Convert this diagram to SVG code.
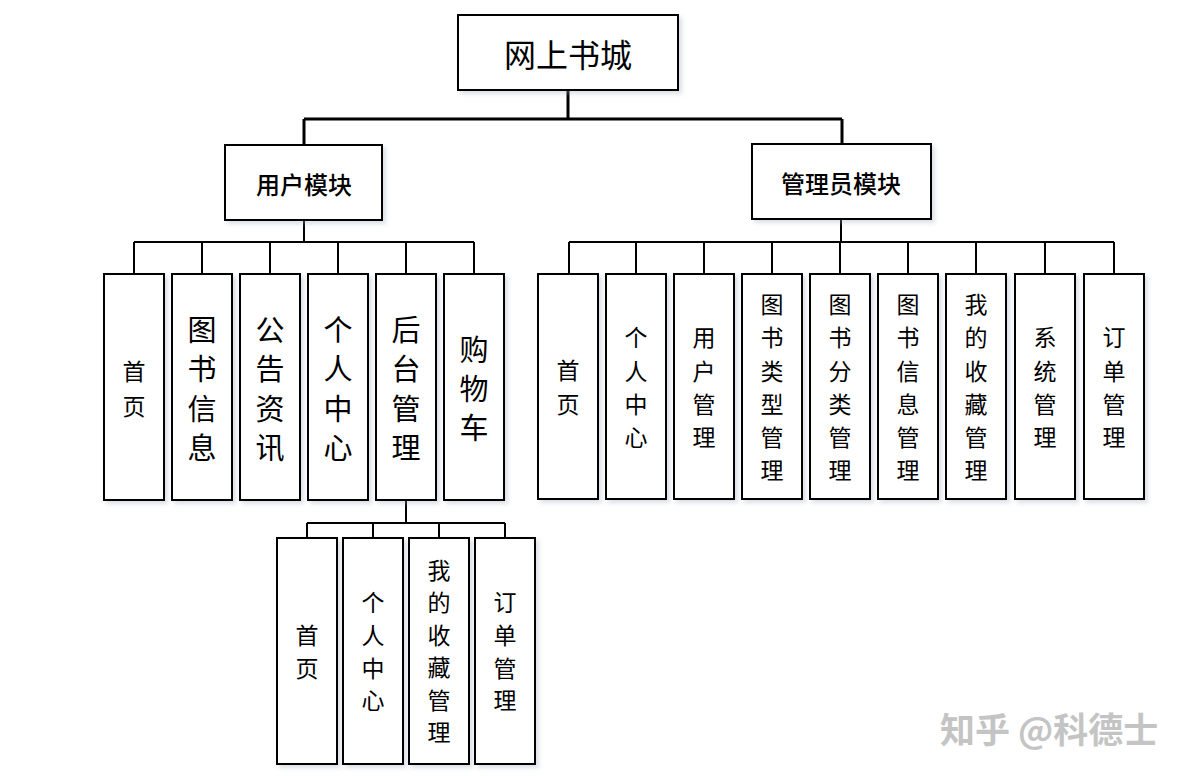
<svg xmlns="http://www.w3.org/2000/svg" width="1189" height="776" viewBox="0 0 1189 776">
<defs>
<filter id="sh" x="-10%" y="-10%" width="130%" height="130%">
<feDropShadow dx="3" dy="3" stdDeviation="2" flood-color="#9aa6b8" flood-opacity="0.35"/>
</filter>
</defs>
<style>
.box{fill:#fff;stroke:#000;stroke-width:2;filter:url(#sh)}
.t{font-family:"Noto Sans CJK SC","Liberation Sans",sans-serif;fill:#000;text-anchor:middle;dominant-baseline:central}
.v24{font-size:23px}
.v30{font-size:29px}
.m{font-size:24px;font-weight:500}
.c{fill:none;stroke:#000;stroke-width:2}
.c3{fill:none;stroke:#000;stroke-width:3}
.wm{font-family:"Noto Sans CJK SC","Liberation Sans",sans-serif;font-size:35px;fill:#c4c4c4;font-weight:bold}
</style>
<rect width="1189" height="776" fill="#fff"/>
<g id="connectors">
<path class="c3" d="M568 90V119M304 119H842M304 119V145M842 119V144"/>
<path class="c" d="M304 220V242M134 242H474M134 242V274M202 242V274M270 242V274M338 242V274M406 242V274M474 242V274"/>
<path class="c" d="M841 219V242M569 242H1114M569 242V274M636 242V274M704 242V274M772 242V274M840 242V274M908 242V274M976 242V274M1045 242V274M1114 242V274"/>
<path class="c" d="M406 500V523M307 523H505M307 523V538M373 523V538M439 523V538M505 523V538"/>
</g>
<g id="root"><rect class="box" x="458" y="15" width="220" height="75"/><text class="t" x="568" y="53" font-size="32">网上书城</text></g>
<g id="user"><rect class="box" x="225" y="145" width="157" height="75"/><text class="t m" x="304" y="183">用户模块</text></g>
<g id="admin"><rect class="box" x="752" y="144" width="179" height="75"/><text class="t m" x="841" y="182">管理员模块</text></g>

<g id="u1"><rect class="box" x="104" y="274" width="60" height="226"/><text class="t v24" x="134"><tspan x="134" y="370">首</tspan><tspan x="134" y="405">页</tspan></text></g>
<g id="u2"><rect class="box" x="172" y="274" width="60" height="226"/><text class="t v30" x="202"><tspan x="202" y="328">图</tspan><tspan x="202" y="367">书</tspan><tspan x="202" y="407">信</tspan><tspan x="202" y="446">息</tspan></text></g>
<g id="u3"><rect class="box" x="240" y="274" width="60" height="226"/><text class="t v30" x="270"><tspan x="270" y="328">公</tspan><tspan x="270" y="367">告</tspan><tspan x="270" y="407">资</tspan><tspan x="270" y="446">讯</tspan></text></g>
<g id="u4"><rect class="box" x="308" y="274" width="60" height="226"/><text class="t v30" x="338"><tspan x="338" y="328">个</tspan><tspan x="338" y="367">人</tspan><tspan x="338" y="407">中</tspan><tspan x="338" y="446">心</tspan></text></g>
<g id="u5"><rect class="box" x="376" y="274" width="60" height="226"/><text class="t v30" x="406"><tspan x="406" y="328">后</tspan><tspan x="406" y="367">台</tspan><tspan x="406" y="407">管</tspan><tspan x="406" y="446">理</tspan></text></g>
<g id="u6"><rect class="box" x="444" y="274" width="60" height="226"/><text class="t v30" x="474"><tspan x="474" y="348">购</tspan><tspan x="474" y="387">物</tspan><tspan x="474" y="426">车</tspan></text></g>

<g id="a1"><rect class="box" x="538" y="274" width="60" height="225"/><text class="t v24"><tspan x="568" y="369">首</tspan><tspan x="568" y="403">页</tspan></text></g>
<g id="a2"><rect class="box" x="606" y="274" width="60" height="225"/><text class="t v24"><tspan x="636" y="336">个</tspan><tspan x="636" y="370">人</tspan><tspan x="636" y="403">中</tspan><tspan x="636" y="436">心</tspan></text></g>
<g id="a3"><rect class="box" x="674" y="274" width="60" height="225"/><text class="t v24"><tspan x="704" y="336">用</tspan><tspan x="704" y="370">户</tspan><tspan x="704" y="403">管</tspan><tspan x="704" y="436">理</tspan></text></g>
<g id="a4"><rect class="box" x="742" y="274" width="60" height="225"/><text class="t v24"><tspan x="772" y="303">图</tspan><tspan x="772" y="336">书</tspan><tspan x="772" y="370">类</tspan><tspan x="772" y="403">型</tspan><tspan x="772" y="436">管</tspan><tspan x="772" y="469">理</tspan></text></g>
<g id="a5"><rect class="box" x="810" y="274" width="60" height="225"/><text class="t v24"><tspan x="840" y="303">图</tspan><tspan x="840" y="336">书</tspan><tspan x="840" y="370">分</tspan><tspan x="840" y="403">类</tspan><tspan x="840" y="436">管</tspan><tspan x="840" y="469">理</tspan></text></g>
<g id="a6"><rect class="box" x="878" y="274" width="60" height="225"/><text class="t v24"><tspan x="908" y="303">图</tspan><tspan x="908" y="336">书</tspan><tspan x="908" y="370">信</tspan><tspan x="908" y="403">息</tspan><tspan x="908" y="436">管</tspan><tspan x="908" y="469">理</tspan></text></g>
<g id="a7"><rect class="box" x="946" y="274" width="60" height="225"/><text class="t v24"><tspan x="976" y="303">我</tspan><tspan x="976" y="336">的</tspan><tspan x="976" y="370">收</tspan><tspan x="976" y="403">藏</tspan><tspan x="976" y="436">管</tspan><tspan x="976" y="469">理</tspan></text></g>
<g id="a8"><rect class="box" x="1015" y="274" width="60" height="225"/><text class="t v24"><tspan x="1045" y="336">系</tspan><tspan x="1045" y="370">统</tspan><tspan x="1045" y="403">管</tspan><tspan x="1045" y="436">理</tspan></text></g>
<g id="a9"><rect class="box" x="1084" y="274" width="60" height="225"/><text class="t v24"><tspan x="1114" y="336">订</tspan><tspan x="1114" y="370">单</tspan><tspan x="1114" y="403">管</tspan><tspan x="1114" y="436">理</tspan></text></g>

<g id="b1"><rect class="box" x="277" y="538" width="60" height="226"/><text class="t v24"><tspan x="307" y="634">首</tspan><tspan x="307" y="667">页</tspan></text></g>
<g id="b2"><rect class="box" x="343" y="538" width="60" height="226"/><text class="t v24"><tspan x="373" y="601">个</tspan><tspan x="373" y="634">人</tspan><tspan x="373" y="667">中</tspan><tspan x="373" y="699">心</tspan></text></g>
<g id="b3"><rect class="box" x="409" y="538" width="60" height="226"/><text class="t v24"><tspan x="439" y="569">我</tspan><tspan x="439" y="601">的</tspan><tspan x="439" y="634">收</tspan><tspan x="439" y="666">藏</tspan><tspan x="439" y="699">管</tspan><tspan x="439" y="731">理</tspan></text></g>
<g id="b4"><rect class="box" x="475" y="538" width="60" height="226"/><text class="t v24"><tspan x="505" y="601">订</tspan><tspan x="505" y="634">单</tspan><tspan x="505" y="667">管</tspan><tspan x="505" y="699">理</tspan></text></g>

<text class="wm" x="940" y="743">知乎 @科德士</text>
</svg>
